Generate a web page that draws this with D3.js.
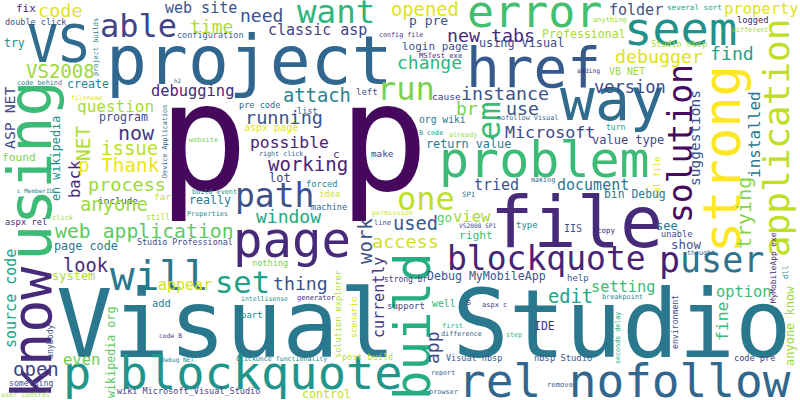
<!DOCTYPE html>
<html>
<head>
<meta charset="utf-8">
<script src="https://cdn.jsdelivr.net/npm/d3@7"></script>
<style>
  html, body { margin: 0; padding: 0; background: #fff; }
  text { font-family: "DejaVu Sans Mono", monospace; }
</style>
</head>
<body>
<div id="cloud"></div>
<script>
// Words of the cloud
const words = [
  "Visual Studio", "p p", "project", "using", "VS", "know", "file", "way", "error", "href",
  "strong", "application", "solution", "seem", "able", "want", "page", "problem", "blockquote", "p blockquote",
  "rel nofollow", "will", "build", "path", "one", "run", "set", "em", "p", "user",
  "web application", "code", "fix", "double click", "try", "project builds", "web site", "configuration", "VS2008", "code behind",
  "h2", "create", "debugging", "filename", "question", "ASP NET", "program", "Device Application", "now", "NET",
  "issue", "found", "en wikipedia", "back", "p Thank", "process", "include", "far", "c MemberID", "need",
  "time", "classic asp", "config file", "attach", "left", "pre code", ".list", "running", "aspx page", "possible",
  "website", "right click", "c", "make", "working", "lot", "forced", "idea", "build event", "really",
  "machine", "Properties", "still", "window", "permission", "line", "used", "go", "access", "work",
  "currently", "Debug MyMobileApp", "help", "strong br", "support", "well", "s", "aspx c", "first", "IDE",
  "difference", "step", "app", "Visual nbsp", "nbsp Studio", "report", "remove", "browser", "opened", "p pre",
  "new tabs", "Professional", "anything", "login page", "using Visual", "MSTest exe", "adding", "change", "instance", "cause",
  "br", "use", "org wiki", "nofollow Visual", "Microsoft", "B code", "already", "value type", "return value", "tried",
  "making", "document", "SP1", "folder", "several sort", "property", "logged", "different", "Studio nbsp", "debugger",
  "find", "VB NET", "version", "suggestions", "installed", "trying", "turn", "xml file", "bin Debug", "anyone",
  "click", "aspx rel", "Studio Professional", "page code", "look", "system", "appear", "source code", "add", "even",
  "wikipedia org", "anybody", "code B", "open", "Debug NET", "something", "wiki Microsoft_Visual_Studio", "user control", "nothing", "thing",
  "intellisense", "generator", "solution explorer", "scenario", "part", "ClickOnce functionality", "post build", "control", "copy", "see",
  "unable", "show", "thought", "setting", "option", "MyMobileApp exe", "dll", "breakpoint", "environment", "fine",
  "anyone know", "seconds delay", "code pre", "IIS", "right", "view", "VS2008 SP1", "type", "edit"
];

// Relative weight of each word (drives the font size)
const weights = [
  94, 150, 68, 60, 52, 55, 72, 58, 45, 56,
  52, 36, 33, 47, 32, 32.5, 49, 50, 33, 47,
  46, 41, 49, 33, 32, 32, 30.5, 32, 35, 35,
  19.8, 18.5, 11, 8.5, 11.5, 6.9, 15, 8.5, 19, 6.8,
  6, 11.6, 15.4, 6.5, 16, 14.8, 11.6, 6.75, 20, 19.5,
  19, 11.2, 11.8, 15.5, 19.3, 18.5, 9.5, 9.5, 6, 18,
  18, 15, 6.7, 18.8, 9, 8.6, 8.5, 18.5, 10, 16.4,
  6.9, 6.7, 11, 9.3, 19, 12, 8.7, 8.9, 6.8, 11.6,
  8.6, 6.8, 8, 18, 6.8, 7, 18.7, 12.5, 18.5, 19,
  15, 11.6, 9, 8, 9, 9.8, 9, 7, 7, 11.5,
  6.8, 6.7, 18, 8.5, 8.8, 6.7, 7.2, 6.9, 18.8, 13,
  18.3, 11.6, 7, 11, 11.8, 7.2, 6.4, 18, 18.3, 9.5,
  18, 18.3, 9.7, 6.8, 16.7, 6.7, 6.7, 12, 11.8, 15,
  6.7, 15, 7.3, 15, 7.6, 15.5, 8.7, 6.7, 8.5, 18.3,
  18.2, 10, 17, 14.5, 16, 20, 8, 8.6, 11.4, 18.8,
  7, 8.8, 8.4, 11.8, 18.7, 12, 15, 15, 10.4, 15.5,
  11.7, 8.2, 6.4, 19, 6.1, 8.2, 8.5, 6.8, 8.6, 18.2,
  6.5, 7, 8.6, 8.6, 9, 6.6, 8.5, 11.6, 7.5, 12,
  8.7, 12.4, 6.7, 15.3, 15.4, 7.8, 7.5, 6.8, 8.2, 16.4,
  12, 6.7, 8.6, 10, 11.2, 15.5, 6.2, 9, 18.7
];

// Position of each word on the viridis colour map (0 = purple, 1 = yellow)
const shades = [
  0.40, 0.02, 0.33, 0.68, 0.35, 0.12, 0.12, 0.35, 0.70, 0.28,
  1.00, 0.90, 0.03, 0.50, 0.20, 0.65, 0.12, 0.68, 0.10, 0.52,
  0.33, 0.40, 0.62, 0.25, 0.90, 0.80, 0.57, 0.68, 0.08, 0.38,
  0.75, 0.95, 0.10, 0.25, 0.50, 0.40, 0.25, 0.30, 0.85, 0.45,
  0.30, 0.47, 0.12, 0.95, 0.87, 0.22, 0.22, 0.35, 0.15, 0.88,
  0.90, 0.80, 0.50, 0.10, 0.97, 0.85, 0.22, 0.92, 0.45, 0.25,
  0.88, 0.20, 0.15, 0.45, 0.25, 0.35, 0.30, 0.25, 0.95, 0.10,
  0.80, 0.32, 0.15, 0.20, 0.10, 0.20, 0.45, 0.92, 0.50, 0.40,
  0.30, 0.48, 0.88, 0.60, 0.92, 0.25, 0.28, 0.75, 0.93, 0.25,
  0.15, 0.25, 0.28, 0.15, 0.20, 0.65, 0.15, 0.15, 0.65, 0.15,
  0.30, 0.65, 0.22, 0.27, 0.27, 0.30, 0.30, 0.30, 0.95, 0.25,
  0.12, 0.87, 0.85, 0.25, 0.22, 0.12, 0.15, 0.65, 0.25, 0.15,
  0.80, 0.25, 0.40, 0.30, 0.22, 0.50, 0.85, 0.22, 0.40, 0.25,
  0.30, 0.40, 0.40, 0.25, 0.60, 0.95, 0.10, 0.85, 0.87, 0.95,
  0.58, 0.85, 0.22, 0.25, 0.40, 0.82, 0.55, 0.95, 0.40, 0.85,
  0.85, 0.12, 0.22, 0.40, 0.12, 0.88, 0.93, 0.58, 0.42, 0.78,
  0.75, 0.25, 0.15, 0.20, 0.45, 0.25, 0.20, 0.85, 0.80, 0.25,
  0.50, 0.12, 0.88, 0.93, 0.45, 0.45, 0.90, 0.90, 0.12, 0.40,
  0.22, 0.25, 0.30, 0.68, 0.68, 0.08, 0.45, 0.45, 0.22, 0.68,
  0.85, 0.60, 0.22, 0.25, 0.68, 0.87, 0.22, 0.45, 0.58
];

// Cloud layout: [x, baseline y, vertical?] for each word (vertical words read bottom to top)
const layout = [
  [56, 357, 0], [158, 190, 0], [106, 84, 0], [51, 261, 1], [27, 62, 0], [51, 399, 1], [490, 247, 0], [560, 120, 0], [467, 27, 0], [466, 87, 0],
  [740, 253, 1], [789, 257, 1], [692, 223, 1], [624, 45, 0], [100, 37, 0], [297, 23, 0], [233, 257, 0], [439, 177, 0], [447, 270, 0], [63, 389, 0],
  [458, 397, 0], [110, 290, 0], [430, 400, 1], [235, 207, 0], [397, 210, 0], [377, 100, 0], [215, 293, 0], [500, 140, 1], [659, 272, 0], [680, 272, 0],
  [55, 238, 0], [38, 17, 0], [16, 12, 0], [5, 25, 0], [4, 47, 0], [98, 76, 1], [165, 13, 0], [177, 38, 0], [26, 78, 0], [17, 85, 0],
  [174, 83, 0], [67, 88, 0], [151, 96, 0], [71, 100, 0], [77, 112, 0], [15, 149, 1], [99, 121, 0], [167, 178, 1], [118, 140, 0], [90, 161, 1],
  [101, 155, 0], [2, 161, 0], [60, 201, 1], [80, 198, 1], [78, 172, 0], [88, 191, 0], [98, 204, 0], [154, 200, 0], [17, 193, 0], [240, 22, 0],
  [190, 33, 0], [268, 35, 0], [379, 37, 0], [283, 102, 0], [356, 95, 0], [239, 108, 0], [292, 114, 0], [245, 124, 0], [244, 131, 0], [250, 148, 0],
  [189, 142, 0], [259, 156, 0], [333, 158, 0], [371, 157, 0], [268, 171, 0], [269, 182, 0], [306, 187, 0], [319, 197, 0], [192, 194, 0], [189, 204, 0],
  [311, 210, 0], [187, 216, 0], [146, 220, 0], [256, 223, 0], [372, 215, 0], [374, 225, 0], [393, 230, 0], [437, 222, 0], [372, 248, 0], [372, 264, 1],
  [384, 338, 1], [427, 280, 0], [567, 281, 0], [384, 282, 0], [387, 309, 0], [432, 307, 0], [466, 305, 0], [482, 307, 0], [442, 328, 0], [534, 330, 0],
  [441, 336, 0], [506, 337, 0], [439, 364, 1], [446, 361, 0], [534, 361, 0], [431, 375, 0], [547, 387, 0], [429, 394, 0], [391, 16, 0], [409, 25, 0],
  [447, 42, 0], [542, 38, 0], [593, 22, 0], [402, 50, 0], [479, 47, 0], [419, 58, 0], [577, 73, 0], [397, 69, 0], [461, 100, 0], [432, 100, 0],
  [456, 115, 0], [506, 115, 0], [419, 123, 0], [497, 120, 0], [505, 138, 0], [419, 135, 0], [449, 137, 0], [592, 144, 0], [426, 148, 0], [474, 190, 0],
  [531, 182, 0], [557, 190, 0], [462, 197, 0], [609, 15, 0], [667, 10, 0], [724, 14, 0], [737, 23, 0], [732, 32, 0], [651, 47, 0], [615, 63, 0],
  [710, 60, 0], [609, 75, 0], [594, 93, 0], [700, 186, 1], [760, 178, 1], [751, 249, 1], [606, 130, 0], [660, 198, 1], [604, 198, 0], [80, 211, 0],
  [52, 220, 0], [5, 225, 0], [137, 245, 0], [54, 250, 0], [63, 272, 0], [52, 280, 0], [158, 290, 0], [16, 348, 1], [152, 307, 0], [63, 365, 0],
  [115, 398, 1], [53, 359, 1], [159, 338, 0], [13, 376, 0], [161, 362, 0], [9, 386, 0], [117, 394, 0], [1, 397, 0], [252, 266, 0], [273, 290, 0],
  [241, 301, 0], [297, 300, 0], [341, 358, 1], [357, 338, 1], [241, 318, 0], [236, 361, 0], [342, 360, 0], [302, 398, 0], [597, 233, 0], [656, 230, 0],
  [661, 237, 0], [671, 249, 0], [687, 255, 0], [591, 292, 0], [716, 297, 0], [776, 303, 1], [788, 279, 1], [602, 299, 0], [678, 349, 1], [728, 341, 1],
  [794, 366, 1], [620, 364, 1], [734, 361, 0], [564, 232, 0], [459, 239, 0], [453, 222, 0], [459, 228, 0], [516, 228, 0], [548, 303, 0]
];

const width = 800;
const height = 400;

const svg = d3.select("#cloud")
  .append("svg")
    .attr("width", width)
    .attr("height", height)
    .style("display", "block");

svg.append("rect")
  .attr("width", width)
  .attr("height", height)
  .attr("fill", "white");

// Scales
const x = d3.scaleLinear().domain([0, 800]).range([0, width]);
const y = d3.scaleLinear().domain([0, 400]).range([0, height]);
const fontSize = d3.scaleLinear().domain([0, d3.max(weights)]).range([0, 150]);
const color = d3.scaleSequential(d3.interpolateViridis).domain([0, 1]);

const data = words.map((w, i) => ({
  text: w,
  weight: weights[i],
  shade: shades[i],
  px: layout[i][0],
  py: layout[i][1],
  vertical: layout[i][2] === 1
}));

svg.append("g")
  .selectAll("text")
  .data(data)
  .join("text")
    .attr("transform", d => `translate(${x(d.px)},${y(d.py)})` + (d.vertical ? " rotate(-90)" : ""))
    .attr("text-anchor", "start")
    .style("font-size", d => `${fontSize(d.weight)}px`)
    .attr("fill", d => color(d.shade))
    .text(d => d.text);
</script>
</body>
</html>
